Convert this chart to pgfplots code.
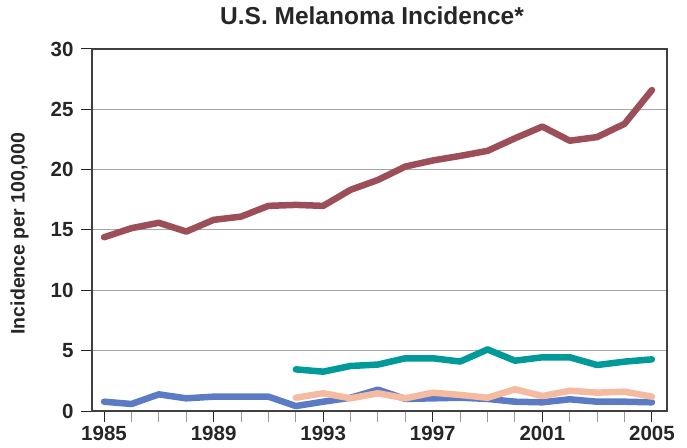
\documentclass[border=0pt]{standalone}
\usepackage{fontspec}
\setmainfont{Liberation Sans}
\usepackage{pgfplots}
\pgfplotsset{compat=1.18}
\definecolor{cRed}{HTML}{9C4F58}
\definecolor{cTeal}{HTML}{009A9A}
\definecolor{cBlue}{HTML}{5B7CC4}
\definecolor{cPink}{HTML}{F4BBA0}
\begin{document}
\begin{tikzpicture}
\begin{axis}[
  scale only axis, width=575pt, height=362pt,
  xmin=1984.56, xmax=2005.55, ymin=0, ymax=30,
  xtick={1985,1989,1993,1997,2001,2005},
  minor xtick={1985,...,2005},
  ytick={0,5,...,30},
  tick align=outside,
  xtick pos=lower, ytick pos=left,
  major tick length=11pt, minor tick length=11pt,
  major tick style={black!85, line width=1pt},
  minor tick style={black!40, line width=1pt},
  axis line style={black!75, line width=1.1pt},
  ymajorgrids, major grid style={black!35, line width=1pt},
  /pgf/number format/1000 sep={},
  /pgf/number format/assume math mode=true,
  tick label style={font=\fontsize{20.5}{21}\selectfont\bfseries, text=black!85},
  xticklabel style={yshift=-1pt},
  yticklabel style={xshift=-4pt},
  title={U.S. Melanoma Incidence*},
  title style={font=\fontsize{24.5}{26}\selectfont\bfseries, text=black!85,
    at={(axis description cs:0.487,1)}, anchor=base, yshift=18pt},
  ylabel={Incidence per 100,000},
  every axis y label/.style={at={(axis description cs:-0.126,0.49)}, rotate=90, anchor=center,
    font=\fontsize{19.5}{21}\selectfont\bfseries, text=black!85},
  every axis plot/.append style={line width=6.5pt, line cap=round, line join=round, mark=none},
]
\addplot[cRed] coordinates {
(1985,14.4)(1986,15.15)(1987,15.6)(1988,14.87)(1989,15.84)(1990,16.11)(1991,17.0)
(1992,17.08)(1993,17.0)(1994,18.33)(1995,19.15)(1996,20.26)(1997,20.76)(1998,21.14)
(1999,21.56)(2000,22.6)(2001,23.57)(2002,22.4)(2003,22.7)(2004,23.8)(2005,26.6)};
\addplot[cTeal] coordinates {
(1992,3.45)(1993,3.26)(1994,3.73)(1995,3.85)(1996,4.37)(1997,4.37)(1998,4.1)
(1999,5.1)(2000,4.17)(2001,4.45)(2002,4.45)(2003,3.81)(2004,4.09)(2005,4.28)};
\addplot[cBlue] coordinates {
(1985,0.77)(1986,0.58)(1987,1.38)(1988,1.05)(1989,1.19)(1990,1.19)(1991,1.19)
(1992,0.41)(1993,0.77)(1994,1.1)(1995,1.77)(1996,1.0)(1997,1.05)(1998,1.1)
(1999,1.0)(2000,0.77)(2001,0.72)(2002,0.97)(2003,0.77)(2004,0.77)(2005,0.72)};
\addplot[cPink] coordinates {
(1992,1.1)(1993,1.47)(1994,1.05)(1995,1.47)(1996,1.05)(1997,1.52)(1998,1.33)
(1999,1.1)(2000,1.8)(2001,1.24)(2002,1.68)(2003,1.52)(2004,1.6)(2005,1.19)};
\end{axis}
\path[use as bounding box] ([xshift=-92pt,yshift=-36pt]current axis.south west)
  rectangle ([xshift=20pt,yshift=49pt]current axis.north east);
\end{tikzpicture}
\end{document}
